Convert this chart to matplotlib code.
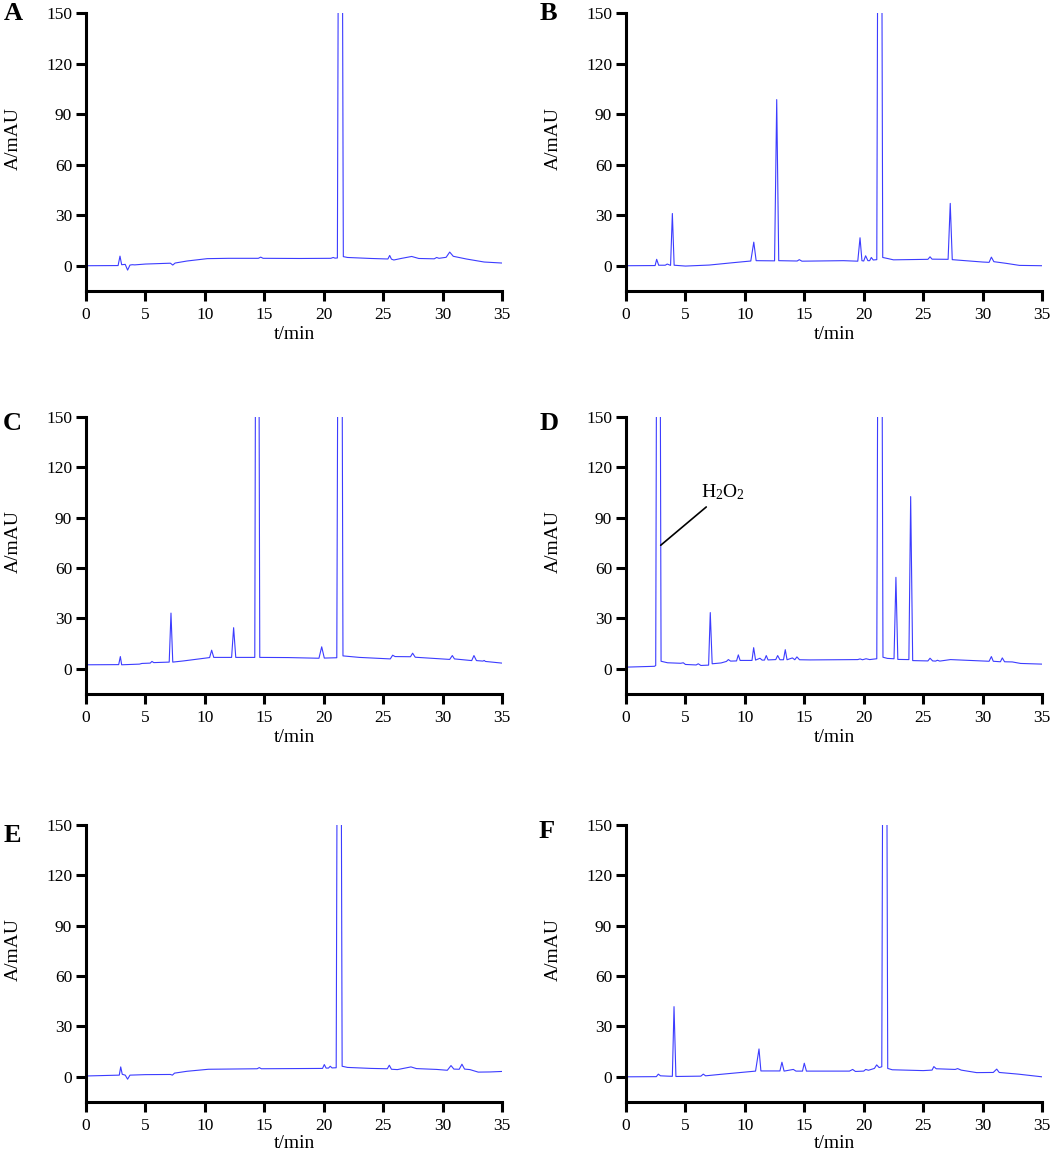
import numpy as np
import matplotlib.pyplot as plt

plt.rcParams['font.family'] = 'serif'
plt.rcParams['font.serif'] = ['Liberation Serif', 'Times New Roman', 'DejaVu Serif']
plt.rcParams['mathtext.fontset'] = 'custom'
plt.rcParams['mathtext.rm'] = 'Liberation Serif'
plt.rcParams['mathtext.it'] = 'Liberation Serif:italic'

# chromatogram traces: (time in min, absorbance in mAU)
trace_A = [(0, 0), (2.7, 0.1), (2.86, 5.7), (3.0, 0.6), (3.3, 0.8), (3.5, -2.6), (3.7, 0.4),
           (3.9, 0.6), (4.1, 0.5), (5, 1.0), (7.1, 1.5), (7.3, 0.4), (7.5, 1.6), (8.5, 2.8),
           (10.2, 4.2), (12, 4.4), (14.5, 4.4), (14.7, 5.1), (14.9, 4.4), (18, 4.3),
           (20.6, 4.4), (20.8, 4.9), (20.95, 4.5), (21.15, 4.6), (21.4, 600), (21.65, 5.4),
           (22.0, 4.9), (24, 4.3), (25.4, 4.0), (25.55, 6.1), (25.7, 3.9), (25.9, 3.4),
           (26.5, 4.3), (27.4, 5.5), (28, 4.3), (29.3, 4.1), (29.5, 4.9), (29.7, 4.4),
           (30.3, 5.0), (30.6, 8.1), (30.9, 5.6), (32, 4.0), (33.5, 2.2), (35, 1.6)]

trace_B = [(0, 0), (2.45, 0.1), (2.58, 3.8), (2.75, 0.3), (3.3, 0.3), (3.47, 1.0),
           (3.75, 0.2), (3.9, 31.0), (4.05, 0.3), (5, -0.2), (7.0, 0.4), (9, 1.8),
           (10.5, 2.8), (10.75, 14.0), (10.95, 3.0), (12.5, 2.9), (12.68, 98.6), (12.85, 3.0),
           (14.4, 2.8), (14.58, 3.6), (14.8, 2.7), (18.3, 3.0), (19.5, 2.7), (19.69, 16.6),
           (19.85, 3.0), (20.0, 2.8), (20.16, 5.9), (20.35, 3.0), (20.5, 3.0), (20.64, 4.9),
           (20.8, 3.4), (21.1, 3.6), (21.35, 600), (21.6, 4.9), (22.0, 4.3), (22.5, 3.5),
           (25.4, 3.8), (25.58, 5.3), (25.75, 3.9), (27.1, 3.8), (27.28, 37.0), (27.45, 3.6),
           (30, 2.2), (30.55, 2.0), (30.74, 5.1), (30.95, 2.4), (32, 1.4), (33.1, 0.2),
           (35, 0)]

trace_C = [(0, 2.4), (2.75, 2.5), (2.89, 7.3), (3.0, 2.4), (4.5, 2.8), (4.7, 3.2),
           (5.4, 3.4), (5.55, 4.4), (5.7, 3.7), (7.0, 4.0), (7.15, 33.2), (7.3, 4.0),
           (8.2, 4.7), (10.4, 6.7), (10.57, 11.1), (10.75, 6.8), (12.25, 6.8), (12.42, 24.5),
           (12.6, 6.8), (14.2, 6.8), (14.4, 600), (14.62, 6.8), (17, 6.7), (19.6, 6.3),
           (19.83, 13.1), (20.05, 6.4), (21.1, 6.6), (21.38, 600), (21.62, 7.7), (23, 6.8),
           (25.6, 5.9), (25.8, 8.1), (26.0, 7.3), (27.3, 7.2), (27.48, 9.3), (27.7, 6.9),
           (30.6, 5.6), (30.82, 7.9), (31.0, 5.9), (32.45, 4.9), (32.64, 7.9), (32.85, 4.9),
           (33.4, 4.6), (33.5, 5.0), (33.6, 4.4), (35, 3.4)]

trace_D = [(0, 1.0), (2.4, 1.5), (2.5, 2.0), (2.72, 600), (2.95, 4.5), (3.5, 3.6),
           (4.6, 3.3), (4.82, 3.6), (5.0, 2.6), (5.9, 2.3), (6.08, 3.0), (6.3, 2.0),
           (6.95, 2.2), (7.09, 33.5), (7.25, 3.0), (8.0, 3.5), (8.45, 4.4), (8.61, 5.5),
           (8.8, 4.6), (9.3, 4.7), (9.45, 8.3), (9.6, 5.0), (10.6, 5.0), (10.74, 12.6),
           (10.9, 5.2), (11.27, 6.3), (11.45, 5.2), (11.65, 5.2), (11.8, 7.9), (11.95, 5.3),
           (12.6, 5.5), (12.76, 7.9), (12.95, 5.4), (13.25, 5.4), (13.4, 11.4), (13.55, 5.4),
           (14.0, 6.5), (14.2, 5.4), (14.38, 7.1), (14.6, 5.4), (15.5, 5.3), (19.5, 5.5),
           (19.69, 5.9), (19.9, 5.4), (20.2, 6.0), (20.5, 5.5), (21.1, 6.0), (21.37, 600),
           (21.62, 6.9), (22.0, 6.2), (22.55, 6.0), (22.71, 54.5), (22.87, 5.6), (23.8, 5.5),
           (23.95, 102.6), (24.12, 4.9), (25.4, 4.7), (25.58, 6.3), (25.8, 4.7), (26.05, 4.6),
           (26.2, 5.1), (26.4, 4.6), (27.3, 5.5), (30.55, 4.5), (30.74, 7.3), (30.9, 4.5),
           (31.5, 4.2), (31.66, 6.5), (31.85, 4.2), (32.5, 4.1), (33.2, 3.2), (35, 2.8)]

trace_E = [(0, 0.5), (2.8, 1.0), (2.92, 5.9), (3.05, 1.5), (3.3, 1.0), (3.5, -1.4),
           (3.7, 1.0), (5, 1.3), (7.1, 1.4), (7.27, 1.0), (7.45, 2.2), (8.5, 3.3), (10.3, 4.5),
           (14.4, 4.8), (14.58, 5.5), (14.75, 4.8), (19.9, 5.0), (20.05, 7.3), (20.2, 5.2),
           (20.4, 5.2), (20.55, 6.3), (20.7, 5.3), (21.05, 5.4), (21.3, 600), (21.55, 6.3),
           (22.0, 5.6), (24, 5.0), (25.35, 4.8), (25.52, 6.9), (25.7, 4.5), (26.2, 4.3),
           (27.34, 5.9), (27.8, 4.9), (29.5, 4.4), (30.4, 3.9), (30.71, 6.7), (30.95, 4.6),
           (31.4, 4.5), (31.63, 7.5), (31.85, 4.6), (32.3, 4.3), (33, 2.8), (34, 2.9), (35, 3.2)]

trace_F = [(0, 0), (2.55, 0.1), (2.72, 1.6), (2.9, 0.6), (3.5, 0.4), (3.9, 0.3), (4.04, 41.8),
           (4.2, 0.2), (6.3, 0.4), (6.5, 1.6), (6.7, 0.6), (8, 1.5), (10.9, 3.4), (11.19, 16.6),
           (11.35, 3.5), (12.95, 3.5), (13.12, 8.7), (13.3, 3.4), (14.08, 4.4), (14.3, 3.4),
           (14.85, 3.4), (15.0, 8.1), (15.18, 3.4), (18.8, 3.4), (19.07, 4.4), (19.3, 3.2),
           (20.0, 3.4), (20.17, 4.4), (20.4, 3.9), (20.9, 5.0), (21.09, 7.1), (21.3, 5.5),
           (21.52, 6.0), (21.77, 600), (22.02, 5.0), (22.4, 4.2), (25.0, 3.7), (25.75, 4.0),
           (25.9, 6.1), (26.1, 4.8), (27.7, 4.4), (27.9, 4.9), (28.2, 4.0), (29.5, 2.5),
           (30.9, 2.6), (31.19, 4.6), (31.4, 2.6), (33, 1.6), (35, 0)]

panel_letters = ['A', 'B', 'C', 'D', 'E', 'F']
traces = [trace_A, trace_B, trace_C, trace_D, trace_E, trace_F]

x_ticks = [0, 5, 10, 15, 20, 25, 30, 35]
y_ticks = [0, 30, 60, 90, 120, 150]

W, H = 1052, 1154
fig = plt.figure(figsize=(W / 100, H / 100), dpi=100)

# axes boxes in pixels: left, top, bottom
col_left = [86, 626]
row_box = [(13, 291), (417, 694), (825, 1102)]
ax_w = 416
letter_pos = [(13, 14), (548, 14), (12, 424), (549, 424), (12, 835), (547, 831)]

line_color = '#3c3cff'

for i, (letter, tr) in enumerate(zip(panel_letters, traces)):
    r, c = divmod(i, 2)
    top, bot = row_box[r]
    ax = fig.add_axes([col_left[c] / W, 1 - bot / H, ax_w / W, (bot - top) / H])
    t = np.array([p[0] for p in tr])
    a = np.array([p[1] for p in tr])
    ax.plot(t, a, color=line_color, lw=0.8)

    ax.set_xlim(0, 35)
    ax.set_ylim(-15, 150)
    ax.set_xticks(x_ticks)
    ax.set_yticks(y_ticks)
    ax.spines['top'].set_visible(False)
    ax.spines['right'].set_visible(False)
    for s in ['left', 'bottom']:
        ax.spines[s].set_linewidth(2.2)
    ax.tick_params(width=2.2, length=7, labelsize=12.5)
    ax.tick_params(axis='x', pad=4.5)
    ax.tick_params(axis='y', pad=3)
    ax.set_xlabel('t/min', fontsize=14, labelpad=2 if r < 2 else 0.5)
    ax.set_ylabel('A/mAU', fontsize=14)
    ax.yaxis.set_label_coords(-0.154, 0.55)

    fig.text(letter_pos[i][0] / W, 1 - letter_pos[i][1] / H, letter,
             fontsize=19, fontweight='bold', ha='center', va='center')

    if letter == 'D':
        ax.annotate(r'H$_2$O$_2$', xy=(2.92, 73.6), xytext=(6.35, 105),
                    fontsize=14, va='center', ha='left',
                    arrowprops=dict(arrowstyle='-', color='black', lw=1.2,
                                    shrinkA=2, shrinkB=0))

fig.savefig('out.png', dpi=100)
